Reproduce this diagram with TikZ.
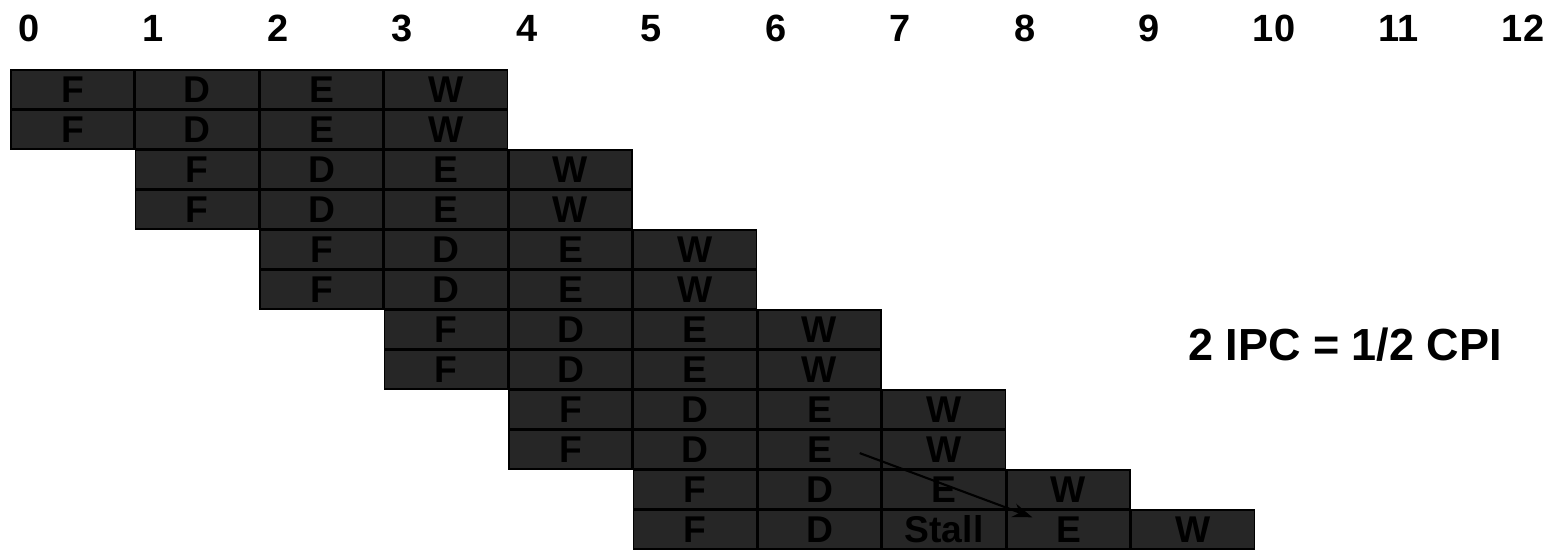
\documentclass[tikz,border=0pt]{standalone}
\usepackage{fontspec}
\setmainfont{Liberation Sans}
\usetikzlibrary{arrows.meta,positioning,calc}
\definecolor{cellgray}{RGB}{38,38,38}
\begin{document}
\begin{tikzpicture}[font=\bfseries,
  stagebox/.style={draw=black,line width=1pt,fill=cellgray,text=black,minimum width=3.075cm,minimum height=0.975cm,inner sep=0pt,font=\fontsize{26.5}{28}\selectfont\bfseries},
  cyclelbl/.style={font=\fontsize{27}{30}\selectfont\bfseries,text height=0.7cm,text depth=0pt,inner sep=0pt}]
  \useasboundingbox (0,0) rectangle (38.975,-13.75);
  % cycle numbers
  \foreach \i in {0,...,12}
    \node[cyclelbl] (t\i) at (0.725+3.1125*\i,-0.7) {\i};
  % two instructions per cycle
  \foreach \r in {0,...,10} {
    \pgfmathtruncatemacro\s{\r/2}
    \foreach \st [count=\k from 0] in {F,D,E,W} {
      \pgfmathtruncatemacro\c{\s+\k}
      \node[stagebox] (r\r c\c) at (1.8125+3.1125*\c,-2.2375-\r) {\st};
    }
  }
  % dependent instruction
  \foreach \st [count=\k from 5] in {F,D,Stall,E,W}
    \node[stagebox] (r11c\k) at (1.8125+3.1125*\k,-13.2375) {\st};
  \draw[line width=1.5pt,-{Stealth[length=14pt,width=10pt]}] ([xshift=-0.55cm,yshift=-0.09cm]r9c6.east) -- ([xshift=0.65cm,yshift=-0.2cm]r11c8.north west);
  \node[font=\fontsize{32}{36}\selectfont\bfseries] (ipc) at (33.625,-8.625) {2 IPC = 1/2 CPI};
\end{tikzpicture}
\end{document}
